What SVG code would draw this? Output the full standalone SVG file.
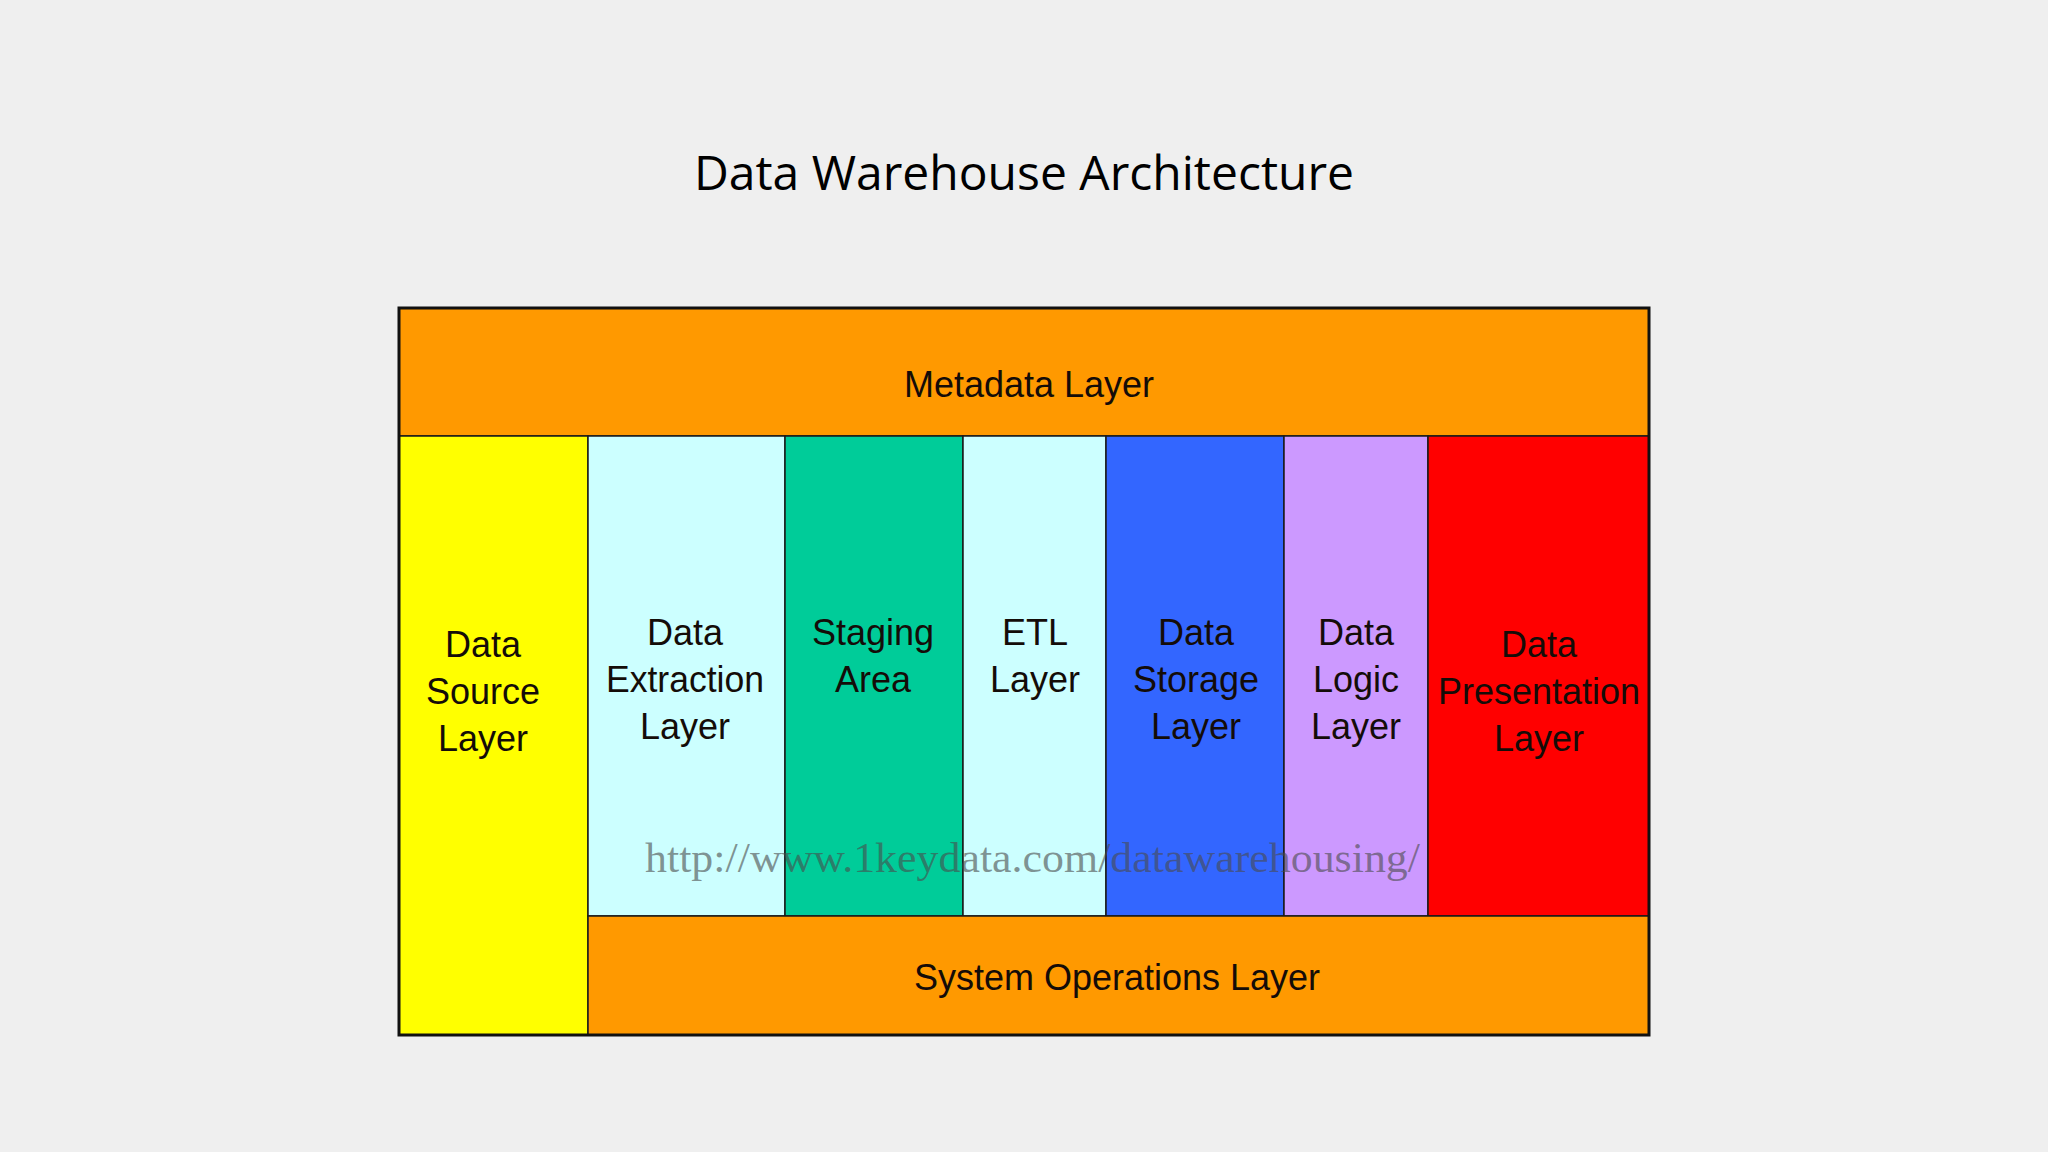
<svg xmlns="http://www.w3.org/2000/svg" width="2048" height="1152" viewBox="0 0 2048 1152">
<style>
.lbl{font-family:"Liberation Sans",Arial,sans-serif;font-size:36px;fill:#140c08;text-anchor:middle}
.cell{stroke:#1a1a1a;stroke-width:1.5}
.title{font-family:"Open Sans","Noto Sans",sans-serif;font-size:48px;fill:#000;text-anchor:middle}
.wm{font-family:"Liberation Serif","Times New Roman",serif;font-size:43px;fill:#4a4a4a;fill-opacity:0.6}
</style>
<rect x="0" y="0" width="2048" height="1152" fill="#efefef"/>
<text class="title" x="1024" y="190">Data Warehouse Architecture</text>

<g id="metadata-layer">
<rect class="cell" x="399" y="308" width="1250" height="128" fill="#ff9900"/>
<text class="lbl" x="1029" y="397">Metadata Layer</text>
</g>
<g id="data-source-layer">
<rect class="cell" x="399" y="436" width="189" height="599" fill="#ffff00"/>
<text class="lbl" x="483" y="657">Data</text>
<text class="lbl" x="483" y="704">Source</text>
<text class="lbl" x="483" y="751">Layer</text>
</g>
<g id="data-extraction-layer">
<rect class="cell" x="588" y="436" width="197" height="480" fill="#ccffff"/>
<text class="lbl" x="685" y="645">Data</text>
<text class="lbl" x="685" y="692" textLength="158" lengthAdjust="spacingAndGlyphs">Extraction</text>
<text class="lbl" x="685" y="739">Layer</text>
</g>
<g id="staging-area">
<rect class="cell" x="785" y="436" width="178" height="480" fill="#00cc99"/>
<text class="lbl" x="873" y="645">Staging</text>
<text class="lbl" x="873" y="692">Area</text>
</g>
<g id="etl-layer">
<rect class="cell" x="963" y="436" width="143" height="480" fill="#ccffff"/>
<text class="lbl" x="1035" y="645">ETL</text>
<text class="lbl" x="1035" y="692">Layer</text>
</g>
<g id="data-storage-layer">
<rect class="cell" x="1106" y="436" width="178" height="480" fill="#3366ff"/>
<text class="lbl" x="1196" y="645">Data</text>
<text class="lbl" x="1196" y="692">Storage</text>
<text class="lbl" x="1196" y="739">Layer</text>
</g>
<g id="data-logic-layer">
<rect class="cell" x="1284" y="436" width="144" height="480" fill="#cc99ff"/>
<text class="lbl" x="1356" y="645">Data</text>
<text class="lbl" x="1356" y="692">Logic</text>
<text class="lbl" x="1356" y="739">Layer</text>
</g>
<g id="data-presentation-layer">
<rect class="cell" x="1428" y="436" width="221" height="480" fill="#ff0000"/>
<text class="lbl" x="1539" y="657">Data</text>
<text class="lbl" x="1539" y="704">Presentation</text>
<text class="lbl" x="1539" y="751">Layer</text>
</g>
<g id="system-operations-layer">
<rect class="cell" x="588" y="916" width="1061" height="119" fill="#ff9900"/>
<text class="lbl" x="1117" y="990">System Operations Layer</text>
</g>
<rect x="399" y="308" width="1250" height="727" fill="none" stroke="#111" stroke-width="3"/>
<text class="wm" x="645" y="872" textLength="775" lengthAdjust="spacingAndGlyphs">http://www.1keydata.com/datawarehousing/</text>
</svg>
